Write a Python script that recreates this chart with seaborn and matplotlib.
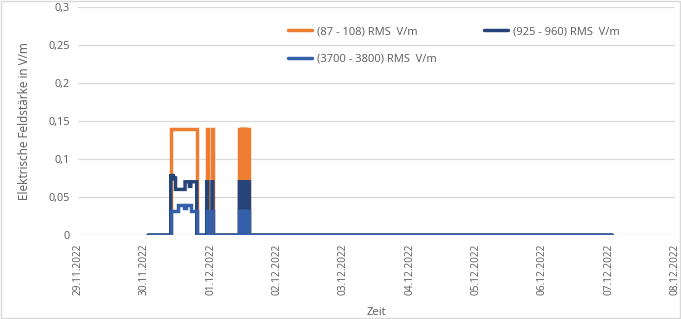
import matplotlib
matplotlib.use("Agg")
import matplotlib.pyplot as plt
import seaborn as sns
import pandas as pd
from matplotlib.patches import Rectangle

# time in days since 29.11.2022 00:00
t_fm = [1.056, 1.398, 1.398, 1.790, 1.790,
        1.940, 1.940, 1.955, 1.955,
        2.020, 2.020, 2.033, 2.033,
        2.433, 2.433, 2.445, 2.445, 2.455, 2.455, 2.467, 2.467,
        2.477, 2.477, 2.489, 2.489, 2.499, 2.499, 2.511, 2.511,
        2.521, 2.521, 2.533, 2.533, 2.543, 2.543, 2.555, 2.555,
        2.565, 2.565, 2.584, 2.584,
        8.054]
v_fm = [0, 0, 0.14, 0.14, 0,
        0, 0.14, 0.14, 0,
        0, 0.14, 0.14, 0,
        0, 0.14, 0.14, 0, 0, 0.14, 0.14, 0,
        0, 0.14, 0.14, 0, 0, 0.14, 0.14, 0,
        0, 0.14, 0.14, 0, 0, 0.14, 0.14, 0,
        0, 0.14, 0.14, 0,
        0]

t_gsm = [1.056, 1.398, 1.398, 1.420, 1.430, 1.450, 1.470, 1.470, 1.614, 1.614,
         1.680, 1.680, 1.700, 1.700, 1.790, 1.790,
         1.940, 1.940, 1.955, 1.955,
         2.020, 2.020, 2.033, 2.033,
         2.433, 2.433, 2.445, 2.445, 2.455, 2.455, 2.467, 2.467,
         2.477, 2.477, 2.489, 2.489, 2.499, 2.499, 2.511, 2.511,
         2.521, 2.521, 2.533, 2.533, 2.543, 2.543, 2.555, 2.555,
         2.565, 2.565, 2.584, 2.584,
         8.054]
v_gsm = [0, 0, 0.08, 0.072, 0.08, 0.075, 0.075, 0.06, 0.06, 0.07,
         0.07, 0.064, 0.064, 0.07, 0.07, 0,
         0, 0.07, 0.07, 0,
         0, 0.07, 0.07, 0,
         0, 0.07, 0.07, 0, 0, 0.07, 0.07, 0,
         0, 0.07, 0.07, 0, 0, 0.07, 0.07, 0,
         0, 0.07, 0.07, 0, 0, 0.07, 0.07, 0,
         0, 0.07, 0.07, 0,
         0]

t_5g = [1.056, 1.398, 1.398, 1.500, 1.500, 1.600, 1.600, 1.630, 1.630, 1.700, 1.700, 1.790, 1.790,
        1.940, 1.940, 1.955, 1.955,
        2.020, 2.020, 2.033, 2.033,
        2.433, 2.433, 2.445, 2.445, 2.455, 2.455, 2.467, 2.467,
        2.477, 2.477, 2.489, 2.489, 2.499, 2.499, 2.511, 2.511,
        2.521, 2.521, 2.533, 2.533, 2.543, 2.543, 2.555, 2.555,
        2.565, 2.565, 2.584, 2.584,
        8.054]
v_5g = [0, 0, 0.032, 0.032, 0.04, 0.04, 0.035, 0.035, 0.04, 0.04, 0.032, 0.032, 0,
        0, 0.032, 0.032, 0,
        0, 0.032, 0.032, 0,
        0, 0.032, 0.032, 0, 0, 0.032, 0.032, 0,
        0, 0.032, 0.032, 0, 0, 0.032, 0.032, 0,
        0, 0.032, 0.032, 0, 0, 0.032, 0.032, 0,
        0, 0.032, 0.032, 0,
        0]

series_names = ["(87 - 108) RMS  V/m", "(925 - 960) RMS  V/m", "(3700 - 3800) RMS  V/m"]
colors = ["#ED7D31", "#264478", "#3360A8"]
date_labels = ["29.11.2022", "30.11.2022", "01.12.2022", "02.12.2022", "03.12.2022",
               "04.12.2022", "05.12.2022", "06.12.2022", "07.12.2022", "08.12.2022"]
y_ticks = [0, 0.05, 0.1, 0.15, 0.2, 0.25, 0.3]
y_labels = ["0", "0,05", "0,1", "0,15", "0,2", "0,25", "0,3"]

sns.set_theme(style="white")
plt.rcParams["font.family"] = ["Open Sans", "DejaVu Sans"]

fig = plt.figure(figsize=(6.81, 3.19), dpi=100)
ax = fig.add_axes([78 / 681, 1 - 235 / 319, (675 - 78) / 681, (235 - 7) / 319])

for t, v, name, c in zip([t_fm, t_gsm, t_5g], [v_fm, v_gsm, v_5g], series_names, colors):
    df = pd.DataFrame({"t": t, "v": v})
    sns.lineplot(data=df, x="t", y="v", sort=False, estimator=None, color=c, lw=2.5, ax=ax,
                 label=name, solid_joinstyle="miter")

ax.set_xlim(0, 9)
ax.set_ylim(0, 0.3)
ax.set_xticks(range(len(date_labels)))
ax.set_xticklabels(date_labels, rotation=90, fontsize=7.3, color="#595959")
ax.set_yticks(y_ticks)
ax.set_yticklabels(y_labels, fontsize=7.8, color="#595959")
ax.tick_params(axis="both", length=0, pad=6)
ax.grid(axis="y", color="#D9D9D9", lw=0.9)
ax.grid(axis="x", visible=False)
for s in ax.spines.values():
    s.set_visible(False)
ax.set_xlabel("Zeit", fontsize=8.2, color="#595959", labelpad=9)
ax.set_ylabel("Elektrische Feldstärke in V/m", fontsize=8.5, color="#595959", labelpad=12)

h, l = ax.get_legend_handles_labels()
ax.legend_.remove()
order = [0, 2, 1]
fig.legend([h[i] for i in order], [l[i] for i in order], ncol=2, frameon=False, loc="upper left",
           bbox_to_anchor=(278 / 681, 1 - 16 / 319),
           fontsize=8, labelcolor="#595959", handlelength=2.2, handletextpad=0.4,
           columnspacing=4.25, labelspacing=1.5)

fig.patches.append(Rectangle((0.001, 0.002), 0.997, 0.995, transform=fig.transFigure,
                             fill=False, edgecolor="#D9D9D9", lw=1))
fig.savefig("out.png", dpi=100)
